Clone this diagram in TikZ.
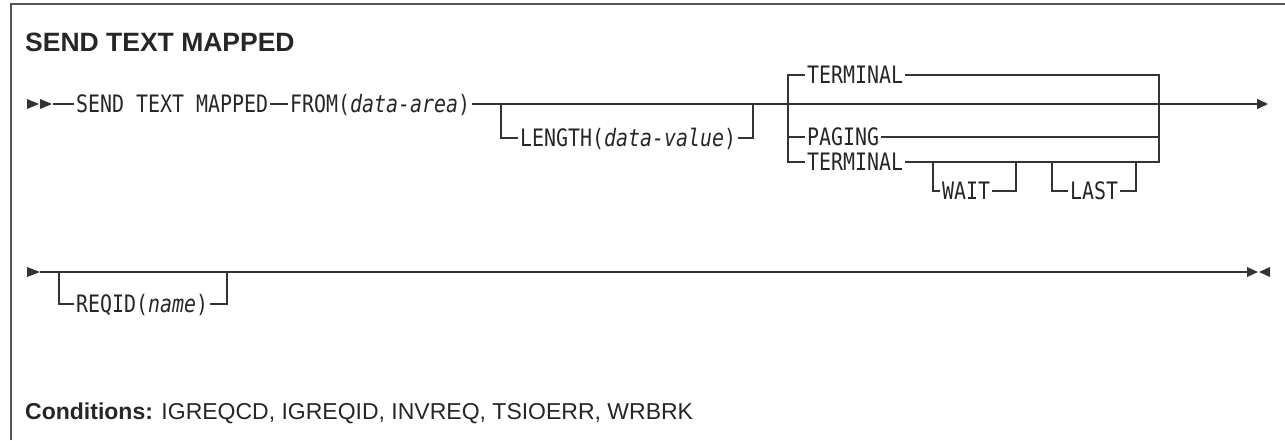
\documentclass[tikz,border=0pt]{standalone}
\usepackage{fontspec}
\setmainfont{Liberation Sans}
\newfontfamily\synfont[FakeStretch=0.83]{DejaVu Sans Mono}
\usetikzlibrary{arrows.meta}
\definecolor{railgray}{HTML}{333333}
\definecolor{framegray}{HTML}{555555}
\begin{document}
\begin{tikzpicture}[x=1pt,y=-1pt,
    kw/.style={anchor=west,inner xsep=2pt,inner ysep=0pt,text height=21pt,text depth=3.5pt,
        font=\synfont\fontsize{24}{28}\selectfont,text=black!85},
    rail/.style={draw=railgray,line width=1.3pt},
    endtip/.style={fill=railgray}
]
\useasboundingbox (0,0) rectangle (1285,440);
\draw[framegray,line width=2pt] (11,440) -- (11,4) -- (1285,4);
\node[anchor=base west,inner sep=0pt,font=\bfseries\fontsize{26.5}{31}\selectfont,text=black!85] (title) at (25,51) {SEND TEXT MAPPED};
\node[anchor=base west,inner sep=0pt,font=\fontsize{23}{27}\selectfont,text=black!85] (cond) at (25,419) {\textbf{Conditions:} IGREQCD, IGREQID, INVREQ, TSIOERR, WRBRK};
\node[kw] (send) at (74,104) {SEND TEXT MAPPED};
\node[kw] (from) at (288,104) {FROM(\textit{data-area})};
\node[kw] (length) at (518,138) {LENGTH(\textit{data-value})};
\node[kw] (termA) at (805,75) {TERMINAL};
\node[kw] (paging) at (805,137) {PAGING};
\node[kw] (termB) at (805,162) {TERMINAL};
\node[kw] (wait) at (940,191) {WAIT};
\node[kw] (last) at (1068,191) {LAST};
\node[kw] (reqid) at (74,304) {REQID(\textit{name})};
\coordinate (s1) at (53,104);
\coordinate (j1) at (501,104);
\coordinate (j2) at (753,104);
\coordinate (e1) at (1268,104);
\coordinate (cl) at (788,162);
\coordinate (cr) at (1159,162);
\coordinate (w1) at (933,162);
\coordinate (w2) at (1016,162);
\coordinate (l1) at (1052,162);
\coordinate (l2) at (1136,162);
\coordinate (s2) at (40,272);
\coordinate (r1) at (59,272);
\coordinate (r2) at (227,272);
\coordinate (e2) at (1247,272);
\fill[endtip] (27,99) -- (39,104) -- (27,109) -- cycle;
\fill[endtip] (40,99) -- (52,104) -- (40,109) -- cycle;
\draw[rail] (s1) -- (send.west);
\draw[rail] (send.east) -- (from.west);
\draw[rail,-{Triangle[length=11pt,width=10pt]}] (from.east) -- (j1) -- (j2) -- (e1);
\draw[rail] (j1) |- (length.west);
\draw[rail] (length.east) -| (j2);
\draw[rail] (termA.west) -| (cl) -- (termB.west);
\draw[rail] (termA.east) -| (cr) -- (termB.east);
\draw[rail] (paging.west -| cl) -- (paging.west);
\draw[rail] (paging.east) -- (paging.east -| cr);
\draw[rail] (w1) |- (wait.west);
\draw[rail] (wait.east) -| (w2);
\draw[rail] (l1) |- (last.west);
\draw[rail] (last.east) -| (l2);
\fill[endtip] (27,267) -- (40,272) -- (27,277) -- cycle;
\draw[rail] (s2) -- (e2);
\draw[rail] (r1) |- (reqid.west);
\draw[rail] (reqid.east) -| (r2);
\fill[endtip] (1247,267) -- (1258,272) -- (1247,277) -- cycle;
\fill[endtip] (1270,267) -- (1259,272) -- (1270,277) -- cycle;
\end{tikzpicture}
\end{document}
